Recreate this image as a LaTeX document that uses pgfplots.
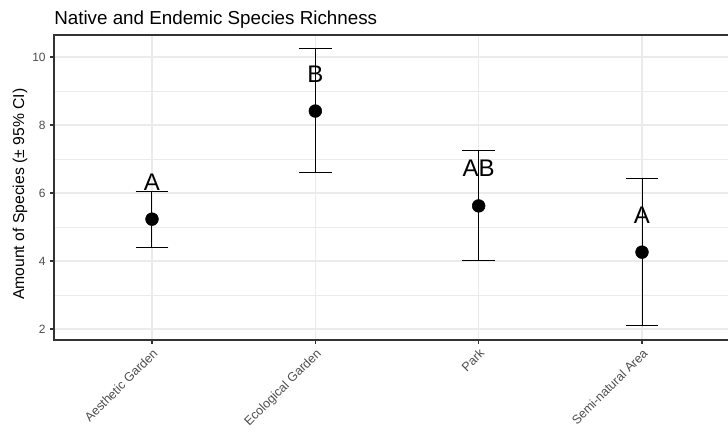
\documentclass[border=0pt]{standalone}
\usepackage{pgfplots}
\pgfplotsset{compat=1.18}
\usepackage{pgfplotstable}
\usepackage{fontspec}
\setmainfont{Liberation Sans}
\definecolor{gridc}{HTML}{EBEBEB}
\definecolor{tickc}{HTML}{4D4D4D}
\definecolor{framec}{HTML}{333333}
\pgfplotstableread{
x mean ep em
1 5.23 0.80 0.82
2 8.41 1.83 1.82
3 5.62 1.62 1.62
4 4.26 2.18 2.17
}\datatab
\pgfplotstableread{
x y lab
1 6.31 A
2 9.50 B
3 6.74 AB
4 5.34 A
}\labtab
\begin{document}
\begin{tikzpicture}
\begin{axis}[
  at={(0,0)}, anchor=south west,
  scale only axis, width=514.5pt, height=228.75pt,
  xmin=0.4, xmax=4.6, ymin=1.676, ymax=10.647,
  xtick={1,2,3,4},
  xticklabels={Aesthetic Garden, Ecological Garden, Park, Semi-natural Area},
  ytick={2,4,6,8,10},
  minor ytick={3,5,7,9},
  grid=both,
  major grid style={gridc, line width=0.8pt},
  minor grid style={gridc, line width=0.4pt},
  minor tick length=0pt,
  tick align=outside, major tick length=2.75pt,
  tick pos=left,
  tick style={framec, line width=0.8pt},
  axis line style={framec, line width=0.8pt},
  /pgf/number format/assume math mode=true,
  xticklabel style={rotate=45, anchor=north east, inner sep=2pt, font=\fontsize{9.4}{10}\selectfont, text=tickc},
  yticklabel style={font=\fontsize{9}{10}\selectfont, text=tickc},
  ylabel={Amount of Species (± 95\% CI)},
  ylabel style={at={(axis description cs:-0.0496,0.478)}, anchor=center, font=\fontsize{11.8}{13}\selectfont},
  title={Native and Endemic Species Richness},
  title style={at={(axis description cs:0,1)}, anchor=base west, yshift=1.5pt, inner sep=0pt, font=\fontsize{14.1}{16}\selectfont},
]
\addplot[only marks, mark=*, mark size=4.8pt, black,
  error bars/.cd, y dir=both, y explicit,
  error bar style={black, line width=0.75pt},
  error mark options={black, mark size=12.3pt, line width=0.75pt, rotate=90}]
  table[x=x, y=mean, y error plus=ep, y error minus=em]{\datatab};
\addplot[draw=none, mark=none, nodes near coords, point meta=explicit symbolic,
  nodes near coords style={anchor=center, font=\fontsize{18}{18}\selectfont, text=black, inner sep=0pt}]
  table[x=x, y=y, meta=lab]{\labtab};
\end{axis}
\pgfresetboundingbox
\useasboundingbox (-40.5pt,-70.5pt) rectangle (505.5pt,255pt);
\end{tikzpicture}
\end{document}
